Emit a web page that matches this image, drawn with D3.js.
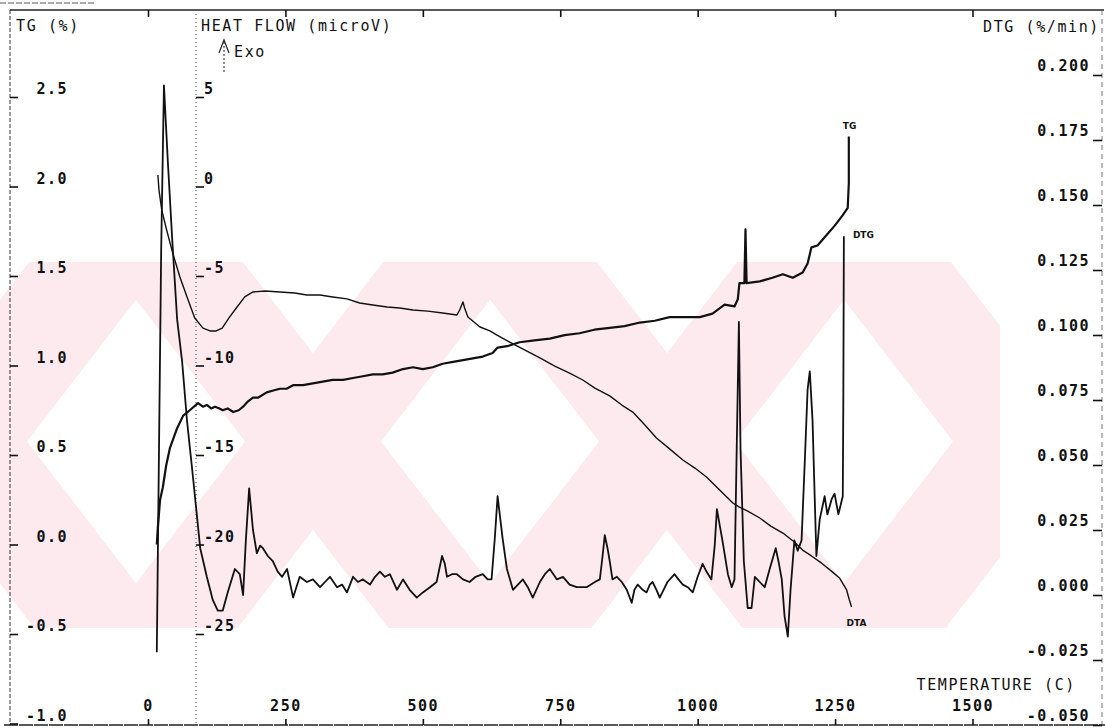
<!DOCTYPE html>
<html>
<head>
<meta charset="utf-8">
<script src="https://cdn.jsdelivr.net/npm/d3@7"></script>
<style>
  body { margin: 0; background: #fff; }
  svg { display: block; }
  .mono { font-family: "DejaVu Sans Mono", monospace; fill: #111; }
</style>
</head>
<body>
<svg id="chart" width="1105" height="728"></svg>
<script>
// ---- data: [temperature C, value] ----
var tempTicks = [0, 250, 500, 750, 1000, 1250, 1500];
var tgTicks = [2.5, 2.0, 1.5, 1.0, 0.5, 0.0, -0.5, -1.0];
var hfTicks = [5, 0, -5, -10, -15, -20, -25];
var dtgTicks = [0.200, 0.175, 0.150, 0.125, 0.100, 0.075, 0.050, 0.025, 0.000, -0.025, -0.050];

// TG (%)
var tgData = [
  [16, 0.00], [18, 0.10], [22, 0.25], [27, 0.32], [33, 0.44], [40, 0.54], [53, 0.65],
  [64, 0.72], [76, 0.75], [91, 0.79], [100, 0.77], [107, 0.78], [115, 0.76], [122, 0.77],
  [130, 0.76], [136, 0.75], [145, 0.76], [155, 0.74], [165, 0.75], [173, 0.77], [182, 0.80],
  [191, 0.82], [200, 0.82], [216, 0.85], [228, 0.86], [240, 0.87], [252, 0.87], [264, 0.89],
  [282, 0.89], [300, 0.90], [318, 0.91], [336, 0.92], [355, 0.92], [373, 0.93], [391, 0.94],
  [409, 0.95], [427, 0.95], [445, 0.96], [464, 0.98], [482, 0.99], [500, 0.98], [518, 0.99],
  [536, 1.01], [555, 1.02], [573, 1.03], [591, 1.04], [609, 1.05], [627, 1.07], [636, 1.10],
  [656, 1.11], [676, 1.13], [703, 1.14], [731, 1.15], [758, 1.17], [785, 1.18], [812, 1.20],
  [840, 1.21], [867, 1.22], [895, 1.24], [922, 1.25], [949, 1.27], [976, 1.27], [1004, 1.27],
  [1027, 1.29], [1049, 1.34], [1067, 1.33], [1073, 1.37], [1076, 1.46], [1085, 1.46],
  [1087, 1.76], [1089, 1.46], [1113, 1.47], [1136, 1.49], [1155, 1.51], [1173, 1.49],
  [1191, 1.52], [1200, 1.57], [1207, 1.66], [1218, 1.67], [1235, 1.73], [1249, 1.78],
  [1264, 1.84], [1273, 1.88], [1275, 2.02], [1275, 2.28]
];

// DTG (%/min)
var dtgData = [
  [16, -0.022], [20, 0.056], [24, 0.133], [29, 0.196], [36, 0.167], [44, 0.137], [53, 0.106],
  [62, 0.090], [71, 0.067], [82, 0.045], [95, 0.018], [107, 0.007], [118, -0.002], [127, -0.006],
  [136, -0.006], [145, 0.001], [158, 0.010], [167, 0.008], [173, 0.000], [178, 0.021],
  [184, 0.041], [191, 0.025], [198, 0.016], [204, 0.019], [209, 0.018], [218, 0.015],
  [227, 0.013], [236, 0.009], [244, 0.007], [253, 0.010], [264, -0.001], [276, 0.007],
  [289, 0.005], [300, 0.006], [313, 0.003], [322, 0.005], [331, 0.007], [344, 0.003],
  [353, 0.004], [362, 0.001], [373, 0.007], [382, 0.005], [391, 0.006], [404, 0.004],
  [413, 0.007], [422, 0.009], [431, 0.007], [440, 0.008], [453, 0.002], [464, 0.006],
  [476, 0.002], [489, -0.001], [500, 0.001], [513, 0.003], [525, 0.005], [535, 0.015],
  [540, 0.012], [544, 0.007], [553, 0.008], [562, 0.008], [573, 0.006], [585, 0.005],
  [596, 0.007], [609, 0.008], [618, 0.006], [625, 0.006], [631, 0.022], [636, 0.038],
  [645, 0.022], [653, 0.010], [664, 0.002], [673, 0.004], [682, 0.006], [691, 0.003],
  [700, -0.001], [713, 0.005], [722, 0.008], [731, 0.010], [744, 0.006], [755, 0.007],
  [767, 0.004], [780, 0.003], [798, 0.003], [813, 0.005], [822, 0.006], [827, 0.015],
  [831, 0.023], [836, 0.018], [840, 0.013], [845, 0.006], [853, 0.007], [862, 0.005],
  [871, 0.002], [880, -0.003], [885, 0.002], [891, 0.004], [900, 0.002], [907, 0.001],
  [913, 0.004], [918, 0.005], [925, 0.002], [931, -0.001], [938, 0.002], [945, 0.005],
  [958, 0.008], [965, 0.006], [973, 0.004], [982, 0.003], [991, 0.001], [1000, 0.007],
  [1009, 0.012], [1016, 0.009], [1025, 0.006], [1031, 0.019], [1035, 0.033], [1040, 0.027],
  [1045, 0.021], [1055, 0.008], [1062, 0.003], [1067, 0.006], [1071, 0.056], [1075, 0.105],
  [1078, 0.056], [1084, 0.013], [1091, -0.005], [1098, -0.005], [1104, 0.007], [1113, 0.005],
  [1122, 0.003], [1131, 0.010], [1142, 0.018], [1147, 0.013], [1153, 0.006], [1158, -0.008],
  [1164, -0.016], [1169, 0.002], [1176, 0.021], [1182, 0.017], [1189, 0.021], [1195, 0.052],
  [1200, 0.079], [1204, 0.086], [1209, 0.067], [1213, 0.037], [1216, 0.015], [1222, 0.029],
  [1231, 0.038], [1236, 0.031], [1244, 0.037], [1249, 0.039], [1256, 0.031], [1264, 0.038],
  [1265, 0.075], [1266, 0.138]
];

// DTA heat flow (microV)
var dtaData = [
  [18, 0.64], [20, -0.20], [25, -1.31], [33, -2.32], [45, -3.72], [58, -5.06], [71, -6.17],
  [85, -7.35], [100, -7.91], [113, -8.07], [124, -8.07], [135, -7.91], [147, -7.35],
  [162, -6.73], [176, -6.17], [191, -5.89], [213, -5.84], [240, -5.89], [267, -5.95],
  [289, -6.06], [313, -6.06], [336, -6.17], [362, -6.28], [385, -6.51], [409, -6.62],
  [435, -6.73], [458, -6.79], [482, -6.90], [509, -6.96], [536, -7.07], [562, -7.18],
  [567, -6.90], [573, -6.45], [576, -6.79], [582, -7.29], [593, -7.57], [604, -7.85],
  [622, -8.07], [635, -8.30], [658, -8.69], [685, -9.13], [713, -9.58], [740, -10.03],
  [767, -10.42], [791, -10.81], [813, -11.26], [840, -11.70], [862, -12.21], [882, -12.60],
  [904, -13.32], [925, -14.05], [949, -14.66], [973, -15.28], [995, -15.73], [1016, -16.23],
  [1040, -16.96], [1064, -17.68], [1076, -17.91], [1091, -18.13], [1113, -18.52],
  [1133, -18.97], [1155, -19.36], [1176, -19.86], [1191, -20.31], [1207, -20.64],
  [1225, -21.03], [1245, -21.53], [1258, -21.87], [1271, -22.54], [1276, -23.10], [1280, -23.49]
];

var svg = d3.select('#chart');

// ---- background watermark (pale pink X shapes) ----
var WM = { TOP: 262, BOTTOM: 628, CY: 441.5, SLOPE: 1.3, HALF: 68 };
var wmCenters = [-41, 313, 667, 1021];
svg.append('clipPath').attr('id', 'wmclip')
  .append('rect').attr('x', 0).attr('y', WM.TOP).attr('width', 1000).attr('height', WM.BOTTOM - WM.TOP);
var wm = svg.append('g').attr('clip-path', 'url(#wmclip)');
wmCenters.forEach(function(cx) {
  [1, -1].forEach(function(dir) {
    var xt = cx + dir * (WM.TOP - WM.CY) / WM.SLOPE;
    var xb = cx + dir * (WM.BOTTOM - WM.CY) / WM.SLOPE;
    var pts = [[xt - WM.HALF, WM.TOP], [xt + WM.HALF, WM.TOP], [xb + WM.HALF, WM.BOTTOM], [xb - WM.HALF, WM.BOTTOM]];
    wm.append('polygon').attr('points', pts.join(' ')).style('fill', '#fdeaee');
  });
});

// ---- scales ----
var x = d3.scaleLinear().domain([0, 1500]).range([148, 972.5]);
var yTG = d3.scaleLinear().domain([-1, 2.5]).range([723.5, 97]);
var yHF = d3.scaleLinear().domain([-25, 5]).range([634, 97]);
var yDTG = d3.scaleLinear().domain([-0.05, 0.2]).range([725, 75]);

function styleAxis(g) {
  g.select('.domain').remove();
  g.attr('font-family', null).attr('font-size', null);
  g.selectAll('line').style('stroke', '#111').style('stroke-width', 1.6);
  g.selectAll('text').attr('class', 'mono')
    .style('font-size', '15px').style('font-weight', 'bold').style('letter-spacing', '1.5px');
}

// frame lines
svg.append('line').attr('x1', 0).attr('x2', 95).attr('y1', 3).attr('y2', 3)
  .style('stroke', '#555').style('stroke-width', 1).style('stroke-dasharray', '6,2');
svg.append('line').attr('x1', 10).attr('x2', 1104).attr('y1', 10).attr('y2', 10)
  .style('stroke', '#222').style('stroke-width', 1.3);
svg.append('line').attr('x1', 4).attr('x2', 1105).attr('y1', 725).attr('y2', 725)
  .style('stroke', '#222').style('stroke-width', 1.4).style('stroke-dasharray', '14,1');
svg.append('line').attr('x1', 10).attr('x2', 10).attr('y1', 10).attr('y2', 725)
  .style('stroke', '#333').style('stroke-width', 1).style('stroke-dasharray', '4,2');
svg.append('line').attr('x1', 196).attr('x2', 196).attr('y1', 10).attr('y2', 725)
  .style('stroke', '#444').style('stroke-width', 1).style('stroke-dasharray', '1,3');
svg.append('line').attr('x1', 1102).attr('x2', 1102).attr('y1', 10).attr('y2', 725)
  .style('stroke', '#555').style('stroke-width', 0.8).style('stroke-dasharray', '5,4');

// TG axis (left)
svg.append('g').attr('transform', 'translate(10,0)')
  .call(d3.axisRight(yTG).tickValues(tgTicks).tickSize(8).tickFormat(function(d) { return d.toFixed(1); }))
  .call(styleAxis)
  .selectAll('text').attr('x', 58).attr('dy', '-0.22em').attr('text-anchor', 'end');

// heat flow axis
svg.append('g').attr('transform', 'translate(196,0)')
  .call(d3.axisRight(yHF).tickValues(hfTicks).tickSize(8).tickFormat(function(d) { return String(d); }))
  .call(styleAxis)
  .selectAll('text').attr('x', 8).attr('dy', '-0.22em').attr('text-anchor', 'start');

// DTG axis (right)
svg.append('g').attr('transform', 'translate(1102,0)')
  .call(d3.axisLeft(yDTG).tickValues(dtgTicks).tickSize(9).tickFormat(function(d) { return d.toFixed(3); }))
  .call(styleAxis)
  .selectAll('text').attr('x', -12).attr('dy', '-0.28em').attr('text-anchor', 'end');

// temperature axis (bottom + top ticks)
svg.append('g').attr('transform', 'translate(0,725)')
  .call(d3.axisTop(x).tickValues(tempTicks).tickSize(6).tickFormat(function(d) { return String(d); }))
  .call(styleAxis)
  .selectAll('text').attr('y', -14).attr('dy', 0).attr('text-anchor', 'middle');
svg.append('g').attr('transform', 'translate(0,10)')
  .call(d3.axisBottom(x).tickValues(tempTicks).tickSize(7).tickFormat(''))
  .call(styleAxis);

// axis titles
function title(txt, tx, ty, anchor) {
  svg.append('text').attr('class', 'mono').attr('x', tx).attr('y', ty)
    .attr('text-anchor', anchor || 'start')
    .style('font-size', '15px').style('letter-spacing', '1.6px').text(txt);
}
title('TG (%)', 16, 31);
title('HEAT FLOW (microV)', 201, 31);
title('DTG (%/min)', 1100, 32, 'end');
title('TEMPERATURE (C)', 1076, 690, 'end');
title('Exo', 234, 57);

// Exo arrow
svg.append('line').attr('x1', 224).attr('x2', 224).attr('y1', 72).attr('y2', 42)
  .style('stroke', '#222').style('stroke-width', 1).style('stroke-dasharray', '2,2');
svg.append('path').attr('d', 'M219,53 L224,40 L229,53')
  .style('fill', 'none').style('stroke', '#222').style('stroke-width', 1.2);

// ---- curves ----
var lineTG = d3.line().x(function(d) { return x(d[0]); }).y(function(d) { return yTG(d[1]); });
var lineDTG = d3.line().x(function(d) { return x(d[0]); }).y(function(d) { return yDTG(d[1]); });
var lineHF = d3.line().x(function(d) { return x(d[0]); }).y(function(d) { return yHF(d[1]); });

svg.append('path').datum(dtaData).attr('d', lineHF)
  .style('fill', 'none').style('stroke', '#111').style('stroke-width', 1.4).style('stroke-linejoin', 'round');
svg.append('path').datum(tgData).attr('d', lineTG)
  .style('fill', 'none').style('stroke', '#111').style('stroke-width', 2.2).style('stroke-linejoin', 'round');
svg.append('path').datum(dtgData).attr('d', lineDTG)
  .style('fill', 'none').style('stroke', '#111').style('stroke-width', 1.8).style('stroke-linejoin', 'round');

// curve labels at the curve ends
function curveLabel(txt, px, py) {
  svg.append('text').attr('x', px).attr('y', py)
    .style('font-family', '"DejaVu Sans", sans-serif').style('font-size', '9px')
    .style('font-weight', 'bold').style('fill', '#111').text(txt);
}
var tgEnd = tgData[tgData.length - 1];
var dtgEnd = dtgData[dtgData.length - 1];
var dtaEnd = dtaData[dtaData.length - 1];
curveLabel('TG', x(tgEnd[0]) - 6, yTG(tgEnd[1]) - 7);
curveLabel('DTG', x(dtgEnd[0]) + 9, yDTG(dtgEnd[1]) + 2);
curveLabel('DTA', x(dtaEnd[0]) - 5, yHF(dtaEnd[1]) + 19);
</script>
</body>
</html>
